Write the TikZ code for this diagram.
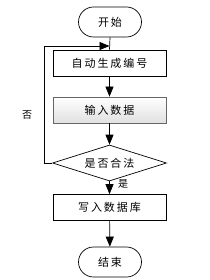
\documentclass[tikz,border=0pt]{standalone}
\usepackage{fontspec}
\newfontfamily\cjk{Noto Sans CJK SC}[LetterSpace=18]
\newfontfamily\cjklab{Noto Sans CJK SC}
\usetikzlibrary{arrows.meta,shapes.geometric,shadows}
\begin{document}
\begin{tikzpicture}[x=1pt,y=-1pt,
  every node/.style={inner sep=0pt,font=\cjk\fontsize{11}{13}\selectfont},
  term/.style={draw,line width=0.7pt,rounded corners=15pt,minimum width=63pt,minimum height=30pt},
  procbox/.style={draw,line width=0.7pt,minimum width=113pt,minimum height=26pt},
  shadedbox/.style={draw=gray!80!black,line width=0.7pt,minimum width=113pt,minimum height=26pt,
    top color=white,bottom color=black!12,drop shadow={shadow xshift=1.2pt,shadow yshift=-1.2pt,opacity=0.35}},
  decide/.style={draw,line width=0.7pt,diamond,aspect=3.17,minimum width=114pt,minimum height=36pt},
  flow/.style={line width=0.7pt,-{Triangle[length=10pt,width=8pt]}},
  plain/.style={line width=0.7pt},
  lab/.style={font=\cjklab\fontsize{10}{12}\selectfont}]
\useasboundingbox (0,0) rectangle (209,280);
\node[term] (start) at (110,22) {开始};
\node[procbox] (b1) at (109.5,63) {自动生成编号};
\node[shadedbox] (b2) at (109.5,110) {输入数据};
\node[decide] (d) at (109.5,163) {是否合法};
\node[procbox] (b3) at (109.5,207.5) {写入数据库};
\node[term] (end) at (110,262) {结束};
\coordinate (j) at (109.5,46);
\coordinate (l1) at (44,163);
\coordinate (l2) at (44,46);
\draw[plain] (start.south) -- (b1.north);
\draw[flow] (b1) -- (b2);
\draw[flow] (b2) -- (d);
\draw[flow] (d) -- (b3);
\draw[flow] (b3) -- (end);
\draw[plain] (d.west) -- (l1) -- (l2);
\draw[flow] (l2) -- (j);
\node[lab] (no) at (27,115) {否};
\node[lab] (yes) at (123,184) {是};
\end{tikzpicture}
\end{document}
